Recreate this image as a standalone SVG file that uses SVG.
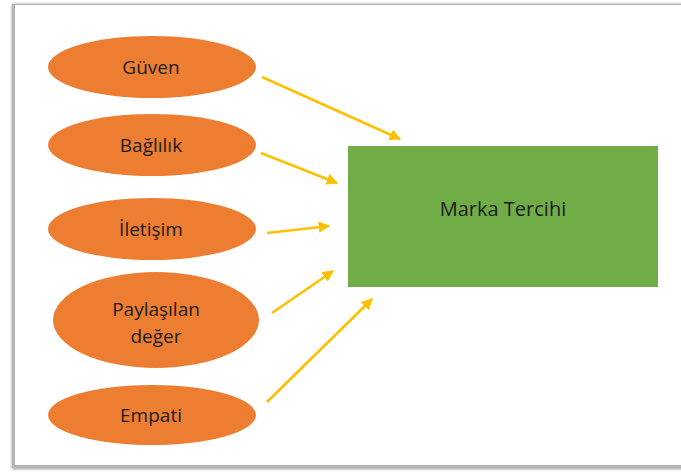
<svg xmlns="http://www.w3.org/2000/svg" width="681" height="473" viewBox="0 0 681 473">
<defs>
<style>
.oval{fill:#ED7D31;}
.lbl{font-family:"Open Sans","Noto Sans",sans-serif;font-size:19px;fill:#1c1c1c;text-anchor:middle;}
.box{fill:#70AD47;}
.conn line{stroke:#FFC000;stroke-width:2.6;fill:none;}
</style>
<marker id="ah" viewBox="0 0 10 10" refX="9" refY="5" markerWidth="4.4" markerHeight="4.4" orient="auto" markerUnits="strokeWidth">
<path d="M0,0 L10,5 L0,10 z" fill="#FFC000"/>
</marker>
<filter id="blur" x="-5%" y="-5%" width="110%" height="110%"><feGaussianBlur stdDeviation="1.5"/></filter>
</defs>
<rect x="0" y="0" width="681" height="473" fill="#ffffff"/>
<g id="frame">
<rect x="12" y="4" width="680" height="465" fill="#9a9a9a" filter="url(#blur)"/>
<rect x="12" y="4" width="680" height="464" fill="#b5b5b5"/>
<rect x="15" y="5" width="680" height="460" fill="#ffffff"/>
</g>
<g id="conn" class="conn">
<line x1="262" y1="77" x2="400" y2="139" marker-end="url(#ah)"/>
<line x1="261" y1="153" x2="337" y2="183" marker-end="url(#ah)"/>
<line x1="267" y1="233" x2="329" y2="226" marker-end="url(#ah)"/>
<line x1="272" y1="313" x2="333" y2="271" marker-end="url(#ah)"/>
<line x1="267" y1="402" x2="372" y2="299" marker-end="url(#ah)"/>
</g>
<g id="guven"><ellipse class="oval" cx="152" cy="67" rx="104" ry="31"/><text class="lbl" x="151" y="74">Güven</text></g>
<g id="baglilik"><ellipse class="oval" cx="152" cy="145" rx="104" ry="31"/><text class="lbl" x="151" y="152">Bağlılık</text></g>
<g id="iletisim"><ellipse class="oval" cx="152" cy="229" rx="104" ry="31"/><text class="lbl" x="151" y="236">İletişim</text></g>
<g id="paylasilan"><ellipse class="oval" cx="156" cy="320" rx="103" ry="48"/><text class="lbl" x="156" y="316">Paylaşılan</text><text class="lbl" x="156" y="343">değer</text></g>
<g id="empati"><ellipse class="oval" cx="152" cy="415" rx="104" ry="30"/><text class="lbl" x="151" y="422">Empati</text></g>
<g id="marka"><rect class="box" x="348" y="146" width="310" height="141"/><text class="lbl" x="503" y="216" style="font-size:20px">Marka Tercihi</text></g>
</svg>
